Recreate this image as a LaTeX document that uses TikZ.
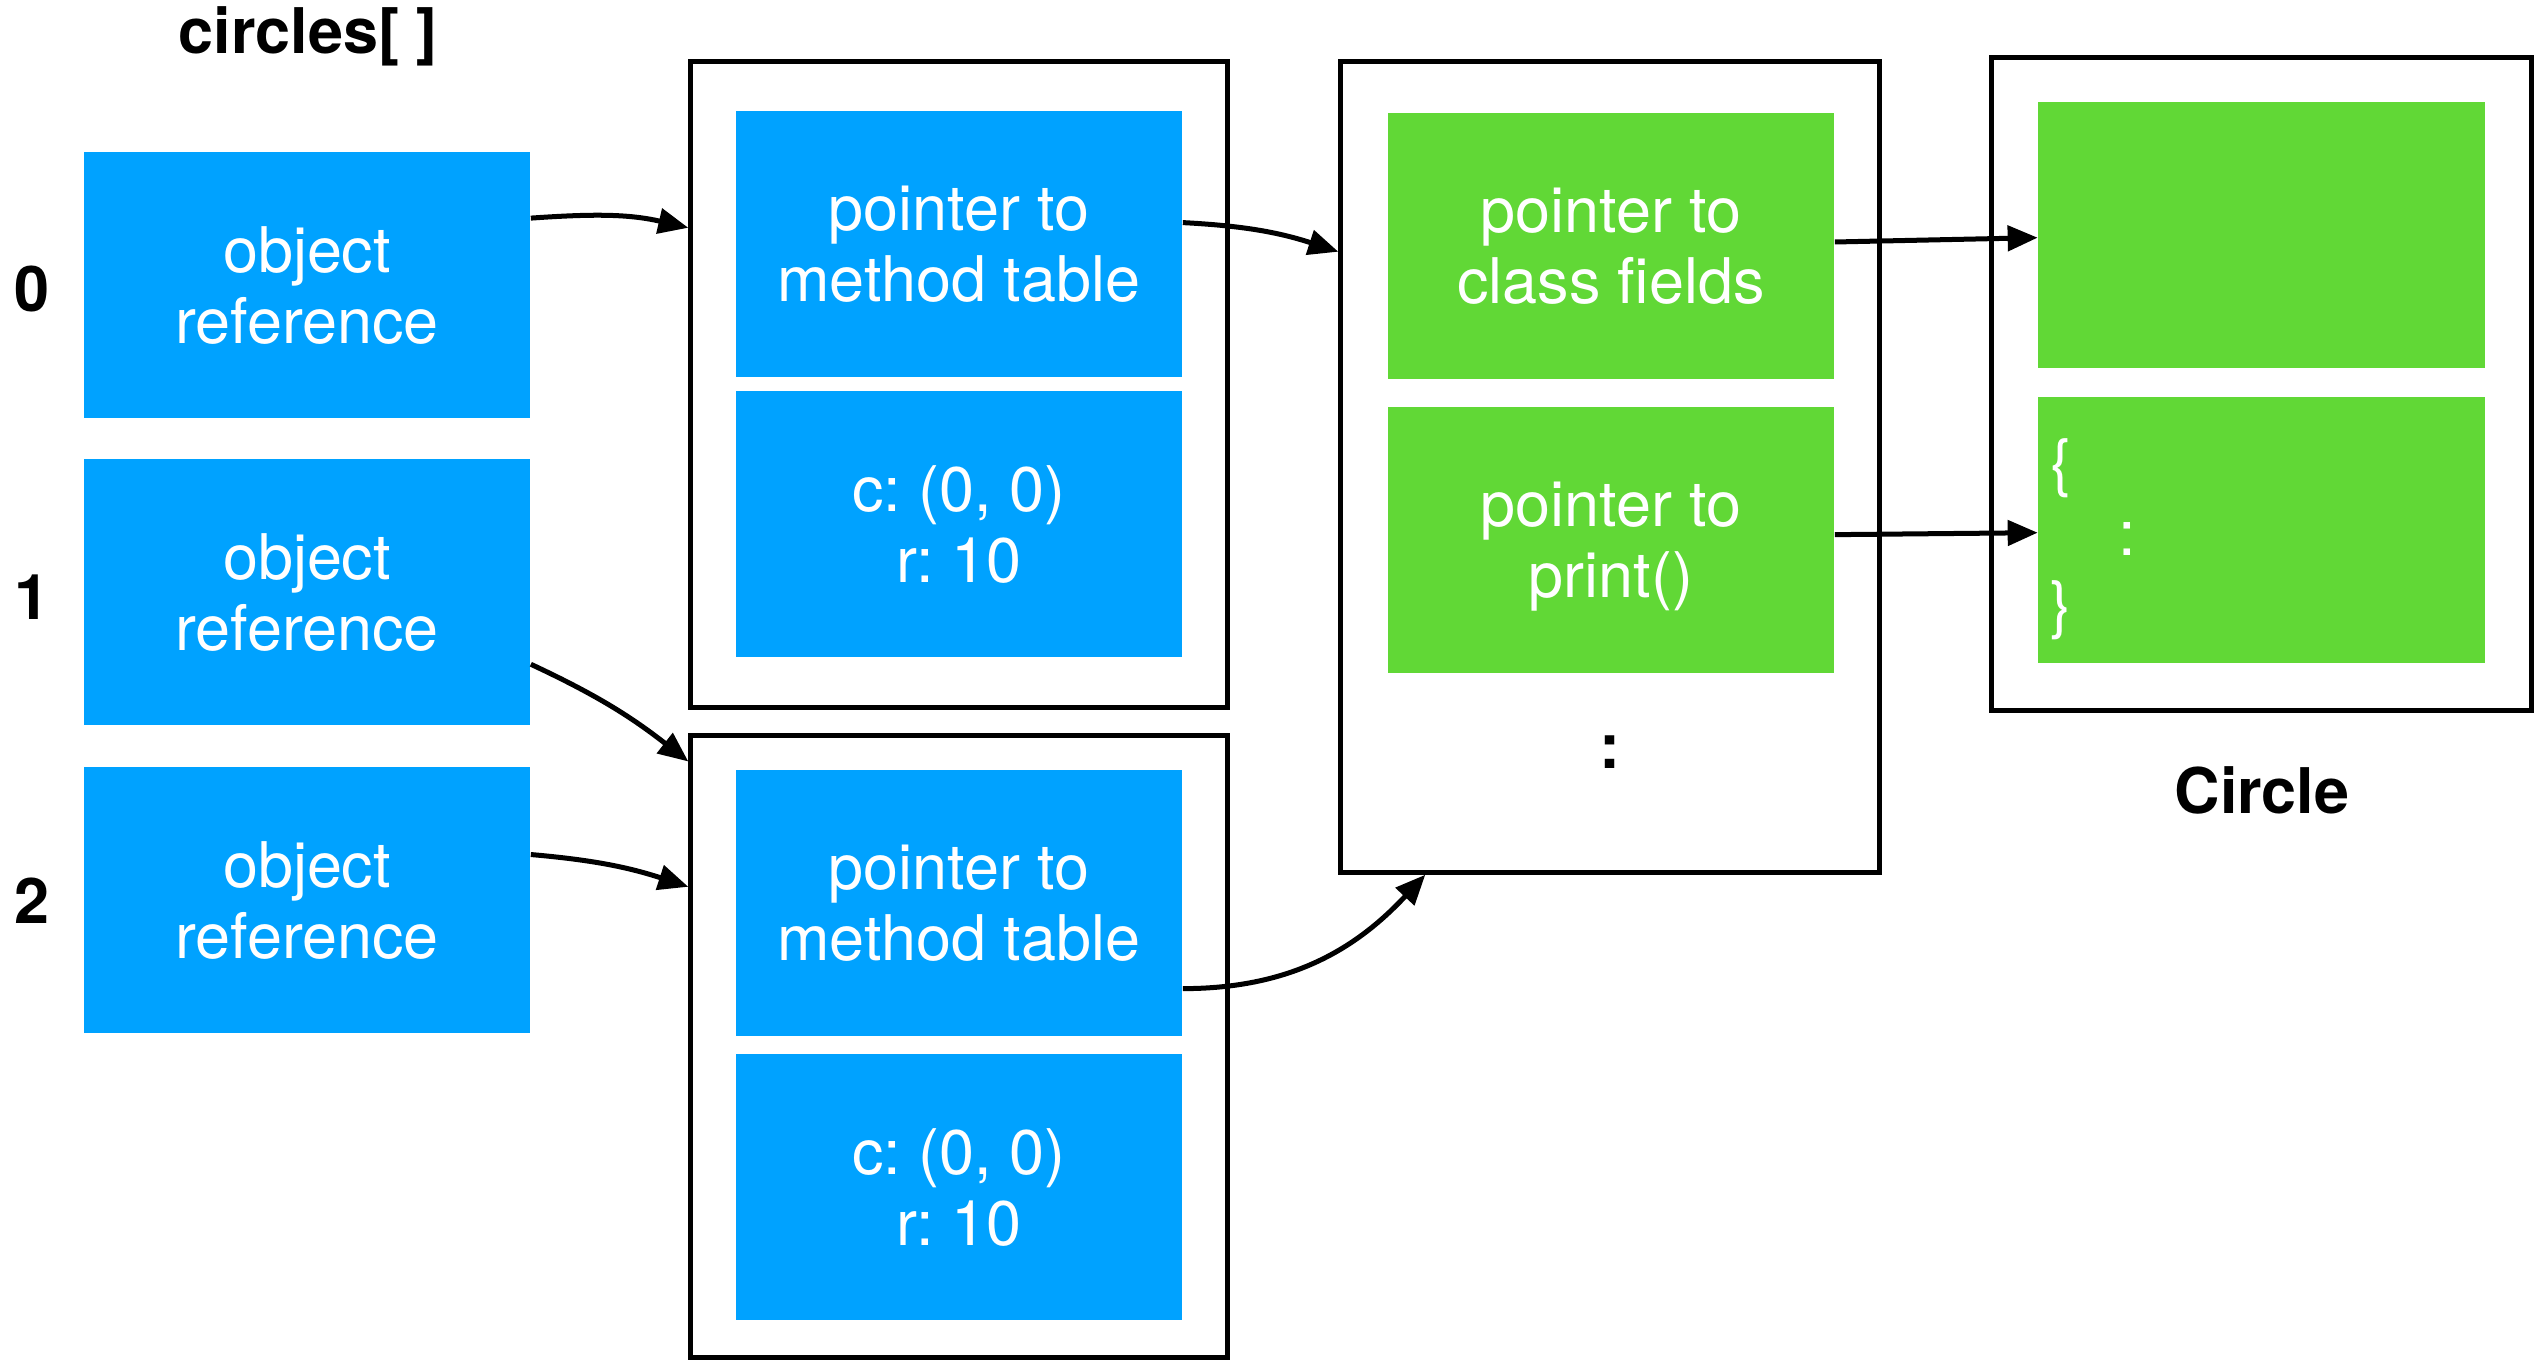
\documentclass[tikz,border=0pt]{standalone}
\usepackage{fontspec}
\setmainfont{TeX Gyre Heros}
\usetikzlibrary{arrows.meta,calc}
\definecolor{boxblue}{RGB}{0,162,255}
\definecolor{boxgreen}{RGB}{97,216,54}
\frenchspacing

\begin{document}
\begin{tikzpicture}[x=0.01cm,y=-0.01cm,
  cell/.style={fill=#1, text=white, minimum width=4.46cm, minimum height=2.66cm,
    inner sep=0pt, align=center, text depth=0pt, font=\fontsize{17.9}{20.2}\selectfont},
  objframe/.style={draw, line width=0.05cm, inner sep=0pt},
  lbl/.style={font=\fontsize{17.9}{20.2}\selectfont\bfseries},
  ptr/.style={line width=0.05cm, -{Triangle[length=0.3cm,width=0.25cm]}}]

\useasboundingbox (0,0) rectangle (2542,1360);

% the array of references
\node[lbl] (title) at (308,36) {circles[ ]};
\node[cell=boxblue] (r0) at (307,285) {object\\reference};
\node[cell=boxblue] (r1) at (307,592) {object\\reference};
\node[cell=boxblue] (r2) at (307,900) {object\\reference};
\node[lbl] (i0) at (32,289) {0};
\node[lbl] (i1) at (32,597) {1};
\node[lbl] (i2) at (32,901) {2};

% the two Circle objects
\node[objframe, minimum width=5.36cm, minimum height=6.45cm] (obj1) at (959,384.5) {};
\node[cell=boxblue] (o1mt) at (959,244) {pointer to\\method table};
\node[cell=boxblue] (o1cr) at (959,524) {c: (0, 0)\\r: 10};

\node[objframe, minimum width=5.36cm, minimum height=6.21cm] (obj2) at (959,1046.5) {};
\node[cell=boxblue] (o2mt) at (959,903) {pointer to\\method table};
\node[cell=boxblue] (o2cr) at (959,1187) {c: (0, 0)\\r: 10};

% the method table
\node[objframe, minimum width=5.38cm, minimum height=8.10cm] (mt) at (1610,467) {};
\node[cell=boxgreen] (gcf) at (1611,246) {pointer to\\class fields};
\node[cell=boxgreen] (gpr) at (1611,540) {pointer to\\print()};
\node[lbl] (more) at (1610,752) {:};

% the class Circle
\node[objframe, minimum width=5.39cm, minimum height=6.52cm] (cls) at (2261.5,384) {};
\node[cell=boxgreen] (cfields) at (2261.5,235) {};
\node[cell=boxgreen] (cbody) at (2261.5,530) {};
\node[anchor=west, text=white, align=left, inner sep=0pt,
  font=\fontsize{17.9}{20.2}\selectfont] (code) at ($(cbody.west)+(12,9)$)
  {\{\\\hspace*{0.68cm}:\\\}};
\node[lbl] (clsname) at (2262,790) {Circle};

% references
\draw[ptr] ($(r0.north east)!0.25!(r0.south east)$) to[out=4,in=167]
  ($(obj1.north west)!0.259!(obj1.south west)$);
\draw[ptr] ($(r1.north east)!0.77!(r1.south east)$) to[out=-25,in=142]
  ($(obj2.north west)!0.045!(obj2.south west)$);
\draw[ptr] ($(r2.north east)!0.33!(r2.south east)$) to[out=-5,in=162]
  ($(obj2.north west)!0.245!(obj2.south west)$);
\draw[ptr] ($(o1mt.north east)!0.42!(o1mt.south east)$) to[out=-3,in=162]
  ($(mt.north west)!0.236!(mt.south west)$);
\draw[ptr] ($(o2mt.north east)!0.82!(o2mt.south east)$) to[out=0,in=-133]
  ($(mt.south west)!0.16!(mt.south east)$);
\draw[ptr] ($(gcf.north east)!0.485!(gcf.south east)$) --
  ($(cfields.north west)!0.51!(cfields.south west)$);
\draw[ptr] ($(gpr.north east)!0.48!(gpr.south east)$) --
  ($(cbody.north west)!0.51!(cbody.south west)$);
\end{tikzpicture}
\end{document}
